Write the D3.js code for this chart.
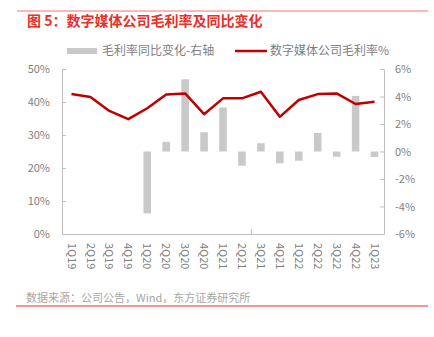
<!DOCTYPE html>
<html><head><meta charset="utf-8">
<script src="https://cdn.jsdelivr.net/npm/d3@7"></script>
<style>
html,body{margin:0;padding:0;background:#fff;}
svg{display:block;font-family:"Noto Sans CJK SC","Noto Sans",sans-serif;}
</style></head>
<body><svg id="c" width="434" height="337"></svg>
<script>
const categories = ["1Q19","2Q19","3Q19","4Q19","1Q20","2Q20","3Q20","4Q20","1Q21","2Q21","3Q21","4Q21","1Q22","2Q22","3Q22","4Q22","1Q23"];
const grossMargin = [42.4,41.5,37.3,34.8,38.1,42.3,42.6,36.3,41.1,41.1,43.1,35.5,40.6,42.4,42.6,39.4,40.1];
const yoyChange = [null,null,null,null,-4.5,0.7,5.25,1.4,3.2,-1.03,0.6,-0.86,-0.67,1.35,-0.38,4.04,-0.4];
const leftTicks = [0,10,20,30,40,50];
const rightTicks = [-6,-4,-2,0,2,4,6];
const titleText = "图 5：数字媒体公司毛利率及同比变化";
const legendBar = "毛利率同比变化-右轴";
const legendLine = "数字媒体公司毛利率%";
const sourceText = "数据来源：公司公告，Wind，东方证券研究所";

const svg = d3.select("#c");
const L = 62, R = 384, T = 69, B = 234;
const axisColor = "#bfbfbf", textColor = "#7f7f7f";

// top & bottom decorative lines
svg.append("line").attr("x1",17).attr("x2",428).attr("y1",11).attr("y2",11).attr("stroke","#f4a3a0").attr("stroke-width",1.5);
svg.append("line").attr("x1",16).attr("x2",428).attr("y1",306).attr("y2",306).attr("stroke","#e8302a").attr("stroke-width",1.2);

svg.append("text").attr("x",27).attr("y",26).attr("fill","#e8302a").attr("font-size",14).attr("font-weight","bold").text(titleText);

const x = d3.scaleBand().domain(categories).range([L,R]).paddingInner(0.6).paddingOuter(0.3);
const xc = d => x(d) + x.bandwidth()/2;
const yL = d3.scaleLinear().domain([0,50]).range([B,T]);
const yR = d3.scaleLinear().domain([-6,6]).range([B,T]);

// bars
svg.append("g").selectAll("rect").data(categories.map((c,i)=>({c,v:yoyChange[i]})).filter(d=>d.v!==null))
  .join("rect")
  .attr("x",d=>x(d.c)).attr("width",x.bandwidth())
  .attr("y",d=>yR(Math.max(0,d.v))).attr("height",d=>Math.abs(yR(d.v)-yR(0)))
  .attr("fill","#c9c9c9");

// line
const line = d3.line().x((d,i)=>xc(categories[i])).y(d=>yL(d));
svg.append("path").datum(grossMargin).attr("d",line).attr("fill","none").attr("stroke","#c00000").attr("stroke-width",2.5).attr("stroke-linejoin","round");

// left axis
const gl = svg.append("g").attr("transform",`translate(${L},0)`)
  .call(d3.axisLeft(yL).tickValues(leftTicks).tickFormat(d=>d+"%").tickSizeInner(-4).tickSizeOuter(0).tickPadding(12));
// right axis
const gr = svg.append("g").attr("transform",`translate(${R},0)`)
  .call(d3.axisRight(yR).tickValues(rightTicks).tickFormat(d=>d+"%").tickSizeInner(-4).tickSizeOuter(0).tickPadding(11));
[gl,gr].forEach(g=>{
  g.select(".domain").attr("stroke",axisColor);
  g.selectAll(".tick line").attr("stroke",axisColor);
  g.selectAll("text").attr("fill",textColor).attr("font-size",11).attr("font-family","'Noto Sans CJK SC',sans-serif");
});

// bottom axis
const gb = svg.append("g").attr("transform",`translate(0,${B})`)
  .call(d3.axisBottom(x).tickSize(0).tickPadding(0));
gb.select(".domain").attr("stroke",axisColor);
gb.selectAll(".tick text")
  .attr("transform","translate(0,9) rotate(90)")
  .attr("text-anchor","start").attr("dy","0.35em").attr("dx",0)
  .attr("fill",textColor).attr("font-size",11).attr("font-family","'Noto Sans CJK SC',sans-serif");
// single tick mark between 2Q21 and 3Q21
const midTick = (xc("2Q21")+xc("3Q21"))/2;
svg.append("line").attr("x1",midTick).attr("x2",midTick).attr("y1",B-5).attr("y2",B).attr("stroke",axisColor);

// legend
const lg = svg.append("g");
lg.append("rect").attr("x",67).attr("y",48).attr("width",30).attr("height",6).attr("fill","#c9c9c9");
lg.append("text").attr("x",102).attr("y",55).attr("font-size",12).attr("fill",textColor).text(legendBar);
lg.append("line").attr("x1",235).attr("x2",267).attr("y1",51).attr("y2",51).attr("stroke","#c00000").attr("stroke-width",2.5);
lg.append("text").attr("x",270).attr("y",55).attr("font-size",12).attr("fill",textColor).text(legendLine);

svg.append("text").attr("x",26).attr("y",302).attr("font-size",11).attr("fill","#a6a6a6").text(sourceText);
</script></body></html>
